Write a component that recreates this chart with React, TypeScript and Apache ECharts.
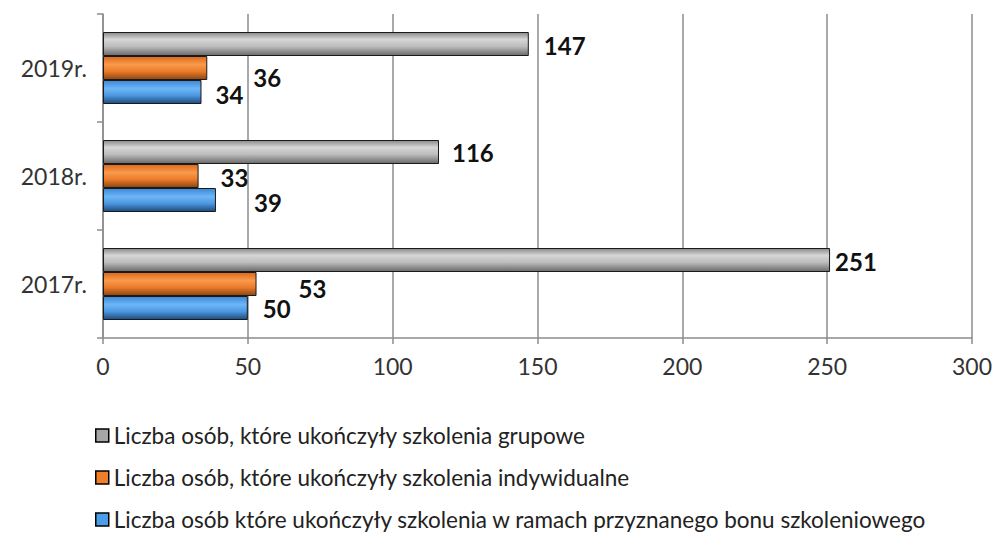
import React, { useEffect, useRef } from "react";
import * as echarts from "echarts";

const categories = ["2017r.", "2018r.", "2019r."];
const seriesNames = [
  "Liczba osób, które ukończyły szkolenia grupowe",
  "Liczba osób, które ukończyły szkolenia indywidualne",
  "Liczba osób które ukończyły szkolenia w ramach przyznanego bonu szkoleniowego",
];
const groupValues = [251, 116, 147];
const individualValues = [53, 33, 36];
const bonusValues = [50, 39, 34];
const xTicks = [0, 50, 100, 150, 200, 250, 300];

// label placement (manual in the original chart), per category
const groupLabelOffsets: [number, number][] = [[0, 1], [8, 0], [10, 1]];
const individualLabelOffsets: [number, number][] = [[37, 4], [17, 1], [41, 9]];
const bonusLabelOffsets: [number, number][] = [[10, 0], [33, 2], [9, 2]];

const FONT = "Lato, 'Open Sans', sans-serif";

function grad(stops: [number, string][]) {
  return new echarts.graphic.LinearGradient(
    0,
    0,
    0,
    1,
    stops.map(([offset, color]) => ({ offset, color }))
  );
}

function withOffsets(values: number[], offsets: [number, number][]) {
  return values.map((v, i) => ({ value: v, label: { offset: offsets[i] } }));
}

export default function App() {
  const ref = useRef<HTMLDivElement>(null);
  useEffect(() => {
    if (!ref.current) return;
    const chart = echarts.init(ref.current, null, { renderer: "svg" });
    const labelStyle = {
      show: true,
      position: "right" as const,
      distance: 5,
      fontFamily: FONT,
      fontWeight: "bold" as const,
      fontSize: 24,
      color: "#111",
    };
    const axisColor = "#8c8c8c";
    chart.setOption({
      animation: false,
      backgroundColor: "#fff",
      grid: { left: 103, right: 22, top: 14, bottom: 196, containLabel: false },
      xAxis: {
        type: "value",
        min: xTicks[0],
        max: xTicks[xTicks.length - 1],
        interval: 50,
        axisLine: { show: true, lineStyle: { color: axisColor, width: 1.5 } },
        axisTick: { show: true, length: 6, lineStyle: { color: axisColor, width: 1.5 } },
        axisLabel: { fontFamily: FONT, fontSize: 23, color: "#333", margin: 16 },
        splitLine: { show: true, lineStyle: { color: axisColor, width: 1.5 } },
      },
      yAxis: {
        type: "category",
        data: categories,
        axisLine: { show: true, lineStyle: { color: axisColor, width: 1.5 } },
        axisTick: { show: true, length: 6, lineStyle: { color: axisColor, width: 1.5 } },
        axisLabel: { fontFamily: FONT, fontSize: 23, color: "#333", margin: 16 },
      },
      legend: {
        orient: "vertical",
        left: 95,
        top: 424,
        padding: 0,
        itemWidth: 13,
        itemHeight: 13,
        itemGap: 19,
        icon: "rect",
        textStyle: { fontFamily: FONT, fontSize: 22.5, color: "#222" },
        data: [
          { name: seriesNames[0], itemStyle: { color: "#a6a6a6", borderColor: "#000", borderWidth: 1.5 } },
          { name: seriesNames[1], itemStyle: { color: "#f07f2a", borderColor: "#000", borderWidth: 1.5 } },
          { name: seriesNames[2], itemStyle: { color: "#4a9ee8", borderColor: "#000", borderWidth: 1.5 } },
        ],
      },
      series: [
        {
          name: seriesNames[0],
          type: "bar",
          data: withOffsets(groupValues, groupLabelOffsets),
          barWidth: 24,
          barGap: "0%",
          itemStyle: {
            color: grad([
              [0, "#8a8a8a"],
              [0.3, "#d6d6d6"],
              [0.6, "#bdbdbd"],
              [1, "#6a6a6a"],
            ]),
            borderColor: "#1a1a1a",
            borderWidth: 1,
          },
          label: labelStyle,
        },
        {
          name: seriesNames[1],
          type: "bar",
          data: withOffsets(individualValues, individualLabelOffsets),
          barWidth: 24,
          barGap: "0%",
          itemStyle: {
            color: grad([
              [0, "#d9691c"],
              [0.35, "#fb9a4c"],
              [0.65, "#e97b2a"],
              [1, "#8f4510"],
            ]),
            borderColor: "#1a1a1a",
            borderWidth: 1,
          },
          label: labelStyle,
        },
        {
          name: seriesNames[2],
          type: "bar",
          data: withOffsets(bonusValues, bonusLabelOffsets),
          barWidth: 24,
          barGap: "0%",
          itemStyle: {
            color: grad([
              [0, "#3d86d6"],
              [0.35, "#6cb6f7"],
              [0.65, "#4d97e0"],
              [1, "#1d4a7a"],
            ]),
            borderColor: "#1a1a1a",
            borderWidth: 1,
          },
          label: labelStyle,
        },
      ],
    });
    return () => chart.dispose();
  }, []);
  return <div ref={ref} style={{ width: 995, height: 534, position: "absolute", left: 0, top: 0 }} />;
}
